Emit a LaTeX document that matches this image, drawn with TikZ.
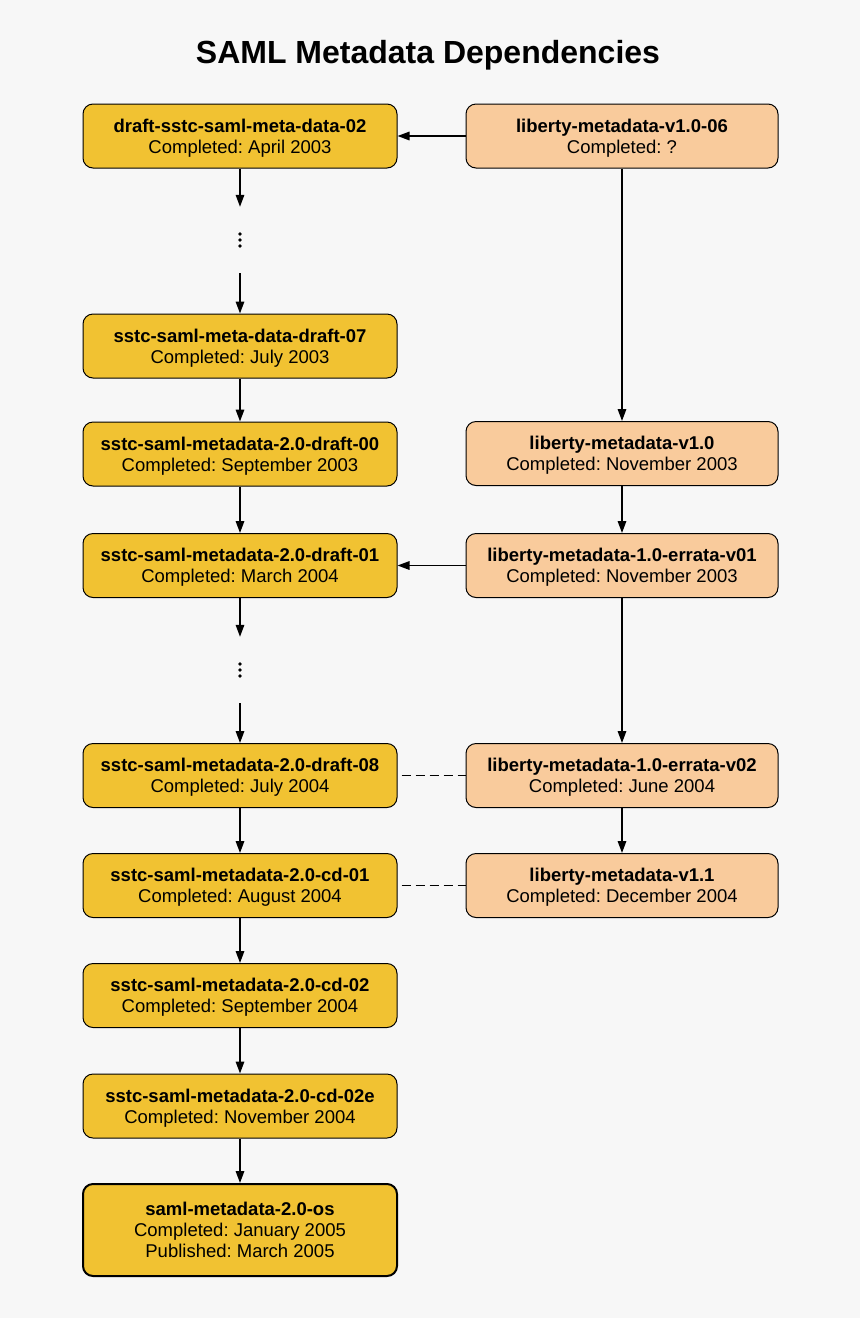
\documentclass[tikz,border=0pt]{standalone}
\usepackage{fontspec}
\setmainfont{Liberation Sans}
\usepackage{xcolor}
\usepackage{tikz}
\usetikzlibrary{arrows.meta}
\frenchspacing
\definecolor{samlfill}{HTML}{F1C232}
\definecolor{libfill}{HTML}{F9CB9C}
\definecolor{paper}{HTML}{F7F7F7}
\tikzset{
	docbox/.style={draw,rounded corners=10pt,line width=1pt,minimum width=314pt,minimum height=64pt,
		align=center,inner sep=0pt,text depth=0pt,font=\fontsize{18.5}{21}\selectfont},
	samlbox/.style={docbox,fill=samlfill},
	libbox/.style={docbox,fill=libfill,minimum width=312pt},
	gapnode/.style={minimum height=66pt,minimum width=4pt,inner sep=0pt},
	arr/.style={-{Triangle[length=12pt,width=8.5pt]},line width=1.6pt},
	link/.style={dash pattern=on 9pt off 5pt,line width=1.6pt,shorten <=4pt}
}
\begin{document}
\begin{tikzpicture}[x=1pt,y=-1pt]
	\fill[paper] (0,0) rectangle (860,1318);
	\useasboundingbox (0,0) rectangle (860,1318);
	\node[font=\fontsize{32}{38}\selectfont\bfseries] (title) at (428,55) {SAML Metadata Dependencies};
	% SAML drafts
	\node[samlbox] (s1) at (240,136) {\textbf{draft-sstc-saml-meta-data-02}\\Completed: April 2003};
	\node[gapnode] (gapA) at (240,240) {};
	\node[samlbox] (s2) at (240,346) {\textbf{sstc-saml-meta-data-draft-07}\\Completed: July 2003};
	\node[samlbox] (s3) at (240,454) {\textbf{sstc-saml-metadata-2.0-draft-00}\\Completed: September 2003};
	\node[samlbox] (s4) at (240,565.5) {\textbf{sstc-saml-metadata-2.0-draft-01}\\Completed: March 2004};
	\node[gapnode] (gapB) at (240,670) {};
	\node[samlbox] (s5) at (240,775.5) {\textbf{sstc-saml-metadata-2.0-draft-08}\\Completed: July 2004};
	\node[samlbox] (s6) at (240,885.5) {\textbf{sstc-saml-metadata-2.0-cd-01}\\Completed: August 2004};
	\node[samlbox] (s7) at (240,995.5) {\textbf{sstc-saml-metadata-2.0-cd-02}\\Completed: September 2004};
	\node[samlbox] (s8) at (240,1106) {\textbf{sstc-saml-metadata-2.0-cd-02e}\\Completed: November 2004};
	\node[samlbox,minimum height=92pt,line width=2pt] (s9) at (240,1230) {\textbf{saml-metadata-2.0-os}\\Completed: January 2005\\Published: March 2005};
	% Liberty documents
	\node[libbox] (l1) at (622,136) {\textbf{liberty-metadata-v1.0-06}\\Completed: ?};
	\node[libbox] (l2) at (622,453.5) {\textbf{liberty-metadata-v1.0}\\Completed: November 2003};
	\node[libbox] (l3) at (622,565.5) {\textbf{liberty-metadata-1.0-errata-v01}\\Completed: November 2003};
	\node[libbox] (l4) at (622,775.5) {\textbf{liberty-metadata-1.0-errata-v02}\\Completed: June 2004};
	\node[libbox] (l5) at (622,885.5) {\textbf{liberty-metadata-v1.1}\\Completed: December 2004};
	% elided drafts
	\foreach \g in {gapA,gapB}{
		\foreach \d in {-6,0,6}
			\fill (\g.center) ++(0,\d) circle (1.8);
	}
	\foreach \a/\b in {s1/gapA,gapA/s2,s2/s3,s3/s4,s4/gapB,gapB/s5,s5/s6,s6/s7,s7/s8,s8/s9}{
		\draw[arr] (\a.south) -- (\b.north);
	}
	\foreach \a/\b in {l1/l2,l2/l3,l3/l4,l4/l5}{
		\draw[arr] (\a.south) -- (\b.north);
	}
	\draw[arr] (l1.west) -- (s1.east);
	\draw[arr] (l3.west) -- (s4.east);
	\draw[link] (s5.east) -- (l4.west);
	\draw[link] (s6.east) -- (l5.west);
\end{tikzpicture}
\end{document}
